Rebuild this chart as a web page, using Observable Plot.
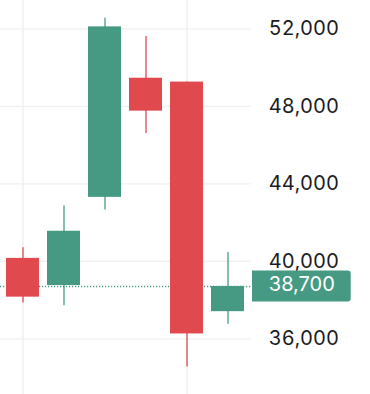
<!DOCTYPE html>
<html>
<head>
<meta charset="utf-8">
<script src="https://cdn.jsdelivr.net/npm/d3@7"></script>
<script src="https://cdn.jsdelivr.net/npm/@observablehq/plot@0.6"></script>
<style>
  html, body { margin: 0; padding: 0; background: #ffffff; }
</style>
</head>
<body>
<div id="chart"></div>
<script>
// Candle data
const candleIndex = [0, 1, 2, 3, 4, 5];
const opens  = [40150, 38750, 43300, 49450, 49250, 37400];
const closes = [38150, 41550, 52100, 47750, 36250, 38700];
const highs  = [40700, 42850, 52550, 51600, 49250, 40450];
const lows   = [37850, 37700, 42650, 46600, 34550, 36750];
const yTicks = [36000, 40000, 44000, 48000, 52000];
const xGridTicks = [0, 4];
const lastPrice = 38700;

const GREEN = "#469a83";
const RED = "#e04a4f";

const data = candleIndex.map((i) => ({
  i, open: opens[i], close: closes[i], high: highs[i], low: lows[i]
}));
const col = (d) => (d.close >= d.open ? GREEN : RED);
const fmt = d3.format(",");

const priceLabel = (index, scales, values, dimensions) => {
  const yc = scales.y(lastPrice);
  const x0 = dimensions.width - dimensions.marginRight + 1.3;
  const x1 = x0 + 98.7;
  const y0 = yc - 15.5, y1 = yc + 15.5, r = 3;
  const g = d3.create("svg:g");
  g.append("path")
    .attr("d", `M${x0},${y0}H${x1 - r}Q${x1},${y0} ${x1},${y0 + r}V${y1 - r}Q${x1},${y1} ${x1 - r},${y1}H${x0}Z`)
    .attr("fill", GREEN);
  return g.node();
};

const chart = Plot.plot({
  width: 370,
  height: 394,
  marginTop: 0,
  marginBottom: 0,
  marginLeft: 0,
  marginRight: 119.3,
  style: { fontFamily: "Inter, sans-serif", fontSize: "20px", background: "#ffffff", color: "#1b1b24" },
  x: { type: "band", domain: candleIndex, range: [6, 244], paddingInner: 8 / 41, paddingOuter: 0, axis: null },
  y: { domain: [36000, 52000], range: [338.3, 28.3], axis: null },
  marks: [
    Plot.gridX(xGridTicks, { stroke: "#efefef", strokeOpacity: 1, strokeWidth: 1.3 }),
    Plot.gridY(yTicks, { stroke: "#efefef", strokeOpacity: 1, strokeWidth: 1.3 }),
    Plot.ruleY([lastPrice], { stroke: GREEN, strokeWidth: 1.4, strokeDasharray: "1.2,1.8" }),
    Plot.ruleX(data, { x: "i", y1: "low", y2: "high", stroke: col, strokeWidth: 1.3 }),
    Plot.barY(data, { x: "i", y1: "open", y2: "close", fill: col }),
    Plot.axisY(yTicks, {
      anchor: "right", tickSize: 0, tickPadding: 17.6, textAnchor: "start",
      tickFormat: fmt, fontSize: 20, fill: "#1b1b24", label: null
    }),
    priceLabel,
    Plot.text([lastPrice], {
      y: (d) => d, text: (d) => fmt(d), frameAnchor: "right", textAnchor: "start",
      dx: 17.6, dy: -1.5, fill: "#ffffff", fontSize: 20
    })
  ]
});
document.getElementById("chart").appendChild(chart);
</script>
</body>
</html>
